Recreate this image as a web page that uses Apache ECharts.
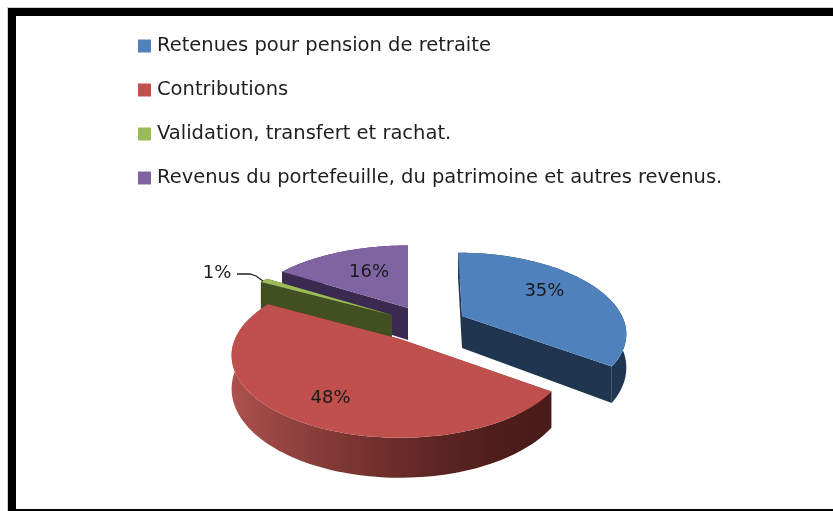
<!DOCTYPE html>
<html><head><meta charset="utf-8">
<style>html,body{margin:0;padding:0;background:#fff}#c{width:833px;height:511px}</style>
<script src="https://cdn.jsdelivr.net/npm/echarts@6/dist/echarts.min.js"></script>
</head><body><div id="c"></div>
<script>
const categories = ["Retenues pour pension de retraite","Contributions","Validation, transfert et rachat.","Revenus du portefeuille, du patrimoine et autres revenus."];
const percents = [35,48,1,16];
const labels = ["35%","48%","1%","16%"];
const topColors = ["#4f81bd","#c0504d","#9bbb59","#8064a2"];
const wallColors = ["#1f3550","#7a3230","#414f21","#3b2a50"];
const drawOrder = [3,2,1,0];

// projection of the tilted pie (layout only)
const P = {k:0.2, depth:32};
const widths = [160,165,164,165];
const heights = [76,79,75,75];
const leans = [23,0,0,0];
const apex = [[462,316],[400,339],[392,315],[408,308]];
const labelPos = [0.58,0.72,0,0.55];
const labelShift = [[5,-6],[3,5],[0,0],[1,-3]];

const total = percents.reduce((a,b)=>a+b,0);
function project(i,X,Y,drop){
  const s = 1/(1-P.k*Y), a=apex[i];
  return [a[0]-leans[i]+(leans[i]+widths[i]*X)*s, a[1]+heights[i]*Y*s+(drop?P.depth*s:0)];
}
function sliceShapes(i){
  let start=0; for(let j=0;j<i;j++) start+=percents[j]/total*Math.PI*2;
  const end=start+percents[i]/total*Math.PI*2;
  const arc=[], n=Math.max(4,Math.round((end-start)/0.03));
  for(let t=0;t<=n;t++){
    const a=start+(end-start)*t/n;
    arc.push([Math.sin(a),-Math.cos(a)]);
  }
  const up=arc.map(p=>project(i,p[0],p[1],false));
  const low=arc.map(p=>project(i,p[0],p[1],true));
  const c0=project(i,0,0,false), c1=project(i,0,0,true);
  const mid=(start+end)/2, r=labelPos[i], lp=project(i,r*Math.sin(mid),-r*Math.cos(mid),false);
  return {up,low,c0,c1,lab:[lp[0]+labelShift[i][0],lp[1]+labelShift[i][1]]};
}
function renderSlice(i){
  return function(){
    const s=sliceShapes(i), kids=[];
    const poly=(pts,fill)=>kids.push({type:'polygon',shape:{points:pts},style:{fill:fill,stroke:null},silent:true});
    let wall=wallColors[i];
    if(i===1) wall=new echarts.graphic.LinearGradient(0,0,1,0,[
      {offset:0,color:'#ad514d'},{offset:0.2,color:'#8f413e'},{offset:0.5,color:'#6c2d2a'},{offset:0.8,color:'#4f1e1b'},{offset:1,color:'#4a1b18'}]);
    poly([s.c0,s.up[0],s.low[0],s.c1],wallColors[i]);
    poly([s.c0,s.up[s.up.length-1],s.low[s.low.length-1],s.c1],wallColors[i]);
    poly(s.up.concat(s.low.slice().reverse()),wall);
    poly([s.c0].concat(s.up),topColors[i]);
    const font='18px "DejaVu Sans"';
    if(i===2){
      kids.push({type:'polyline',shape:{points:[[237,274],[250,274],[256,276],[263,281]]},style:{stroke:'#222',lineWidth:1.3,fill:null},silent:true});
      kids.push({type:'text',style:{text:labels[i],x:217,y:273,align:'center',verticalAlign:'middle',font:font,fill:'#1a1a1a'},z2:10,silent:true});
    } else {
      kids.push({type:'text',style:{text:labels[i],x:s.lab[0],y:s.lab[1],align:'center',verticalAlign:'middle',font:font,fill:'#1a1a1a'},z2:10,silent:true});
    }
    return {type:'group',children:kids};
  };
}
const chart=echarts.init(document.getElementById('c'),null,{renderer:'canvas'});
chart.setOption({
  animation:false,
  backgroundColor:'#fff',
  legend:{
    data:categories, orient:'vertical', left:138, top:36, icon:'rect', itemWidth:13, itemHeight:13,
    itemGap:24, selectedMode:false, padding:0,
    textStyle:{fontFamily:'"DejaVu Sans"',fontSize:19.5,color:'#1f1f1f',padding:[0,0,0,1]},
  },
  graphic:[
    {type:'rect',shape:{x:7,y:7,width:826,height:1},style:{fill:'#cfcfcf'},silent:true},
    {type:'rect',shape:{x:7,y:7,width:1,height:504},style:{fill:'#cfcfcf'},silent:true},
    {type:'rect',shape:{x:8,y:8,width:825,height:8},style:{fill:'#000'},silent:true},
    {type:'rect',shape:{x:8,y:8,width:8,height:503},style:{fill:'#000'},silent:true},
    {type:'rect',shape:{x:8,y:509,width:825,height:2},style:{fill:'#000'},silent:true}
  ],
  series:drawOrder.map(i=>({
    type:'custom', name:categories[i], coordinateSystem:'none',
    itemStyle:{color:topColors[i]},
    data:[percents[i]], renderItem:renderSlice(i), silent:true
  }))
});
</script></body></html>
